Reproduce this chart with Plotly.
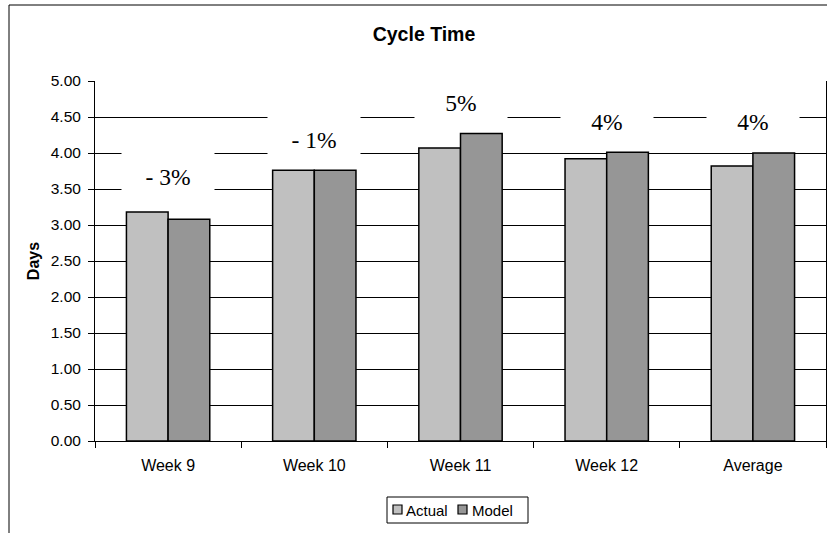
import plotly.graph_objects as go

categories = ["Week 9", "Week 10", "Week 11", "Week 12", "Average"]
actual = [3.18, 3.76, 4.07, 3.92, 3.82]
model = [3.08, 3.76, 4.27, 4.01, 4.00]
series_names = ["Actual", "Model"]
series_colors = ["#C0C0C0", "#969696"]
diff_labels = ["- 3%", "- 1%", "5%", "4%", "4%"]
label_y = [3.67, 4.18, 4.69, 4.43, 4.43]
box_h = [52, 50, 50, 40, 40]
y_ticks = [0, 0.5, 1, 1.5, 2, 2.5, 3, 3.5, 4, 4.5, 5]

W, H = 827, 533
L, R, T, B = 95, 1, 81, 92
pw = W - L - R
ph = H - T - B


def px(x):
    return (x - L) / pw


def py(y):
    return (H - B - y) / ph


fig = go.Figure()
for name, vals, col in zip(series_names, [actual, model], series_colors):
    fig.add_trace(go.Bar(name=name, x=categories, y=vals, showlegend=False,
                         marker=dict(color=col, line=dict(color="black", width=1.5))))

for c, t, yv, h in zip(categories, diff_labels, label_y, box_h):
    fig.add_annotation(x=c, y=yv, xref="x", yref="y", text=t, showarrow=False,
                       font=dict(family="Liberation Serif, Times New Roman, serif", size=23.5, color="black"),
                       bgcolor="white", width=92, height=h, borderpad=0,
                       xanchor="center", yanchor="middle")

# outer chart border
fig.add_shape(type="rect", xref="paper", yref="paper",
              x0=px(9), y0=py(560), x1=px(840), y1=py(5),
              line=dict(color="black", width=1), fillcolor="rgba(0,0,0,0)", layer="below")

# legend (box, swatches, labels)
fig.add_shape(type="rect", xref="paper", yref="paper",
              x0=px(387), y0=py(523), x1=px(528), y1=py(497),
              line=dict(color="black", width=1), fillcolor="white")
sw_x = [393, 458]
tx_x = [405, 471]
for name, col, sx, tx in zip(series_names, series_colors, sw_x, tx_x):
    fig.add_shape(type="rect", xref="paper", yref="paper",
                  x0=px(sx), y0=py(514), x1=px(sx + 9), y1=py(505),
                  line=dict(color="black", width=1.2), fillcolor=col)
    fig.add_annotation(x=px(tx), y=py(510), xref="paper", yref="paper", text=name, showarrow=False,
                       xanchor="left", yanchor="middle", font=dict(size=15), borderpad=0)

fig.update_layout(
    width=W, height=H,
    margin=dict(l=L, r=R, t=T, b=B, autoexpand=False),
    paper_bgcolor="white", plot_bgcolor="white",
    barmode="group", bargap=0.43, bargroupgap=0,
    font=dict(family="Liberation Sans, Arial, sans-serif", size=16, color="black"),
    title=dict(text="<b>Cycle Time</b>", x=424 / W, y=1 - 34 / H, xanchor="center", yanchor="middle",
               font=dict(size=19.5, family="Liberation Sans, Arial, sans-serif", color="black"),
               automargin=False),
    showlegend=False,
)
fig.update_xaxes(showline=True, linecolor="black", linewidth=1, ticks="outside", tickson="boundaries",
                 ticklen=6, tickcolor="black", showgrid=False, tickfont=dict(size=16), automargin=False,
                 ticklabelstandoff=10)
fig.update_yaxes(range=[0, 5], tickvals=y_ticks, tickformat=".2f", showgrid=True, gridcolor="black",
                 gridwidth=1, showline=True, linecolor="black", linewidth=1, mirror=True,
                 ticks="outside", ticklen=6, tickcolor="black", zeroline=False, automargin=False,
                 ticklabelstandoff=4,
                 title=dict(text="<b>Days</b>", standoff=7, font=dict(size=16)), tickfont=dict(size=15.5))

fig.write_html("out.html", config={"displayModeBar": False},
               post_script="document.body.style.margin='0';document.body.style.overflow='hidden';")
